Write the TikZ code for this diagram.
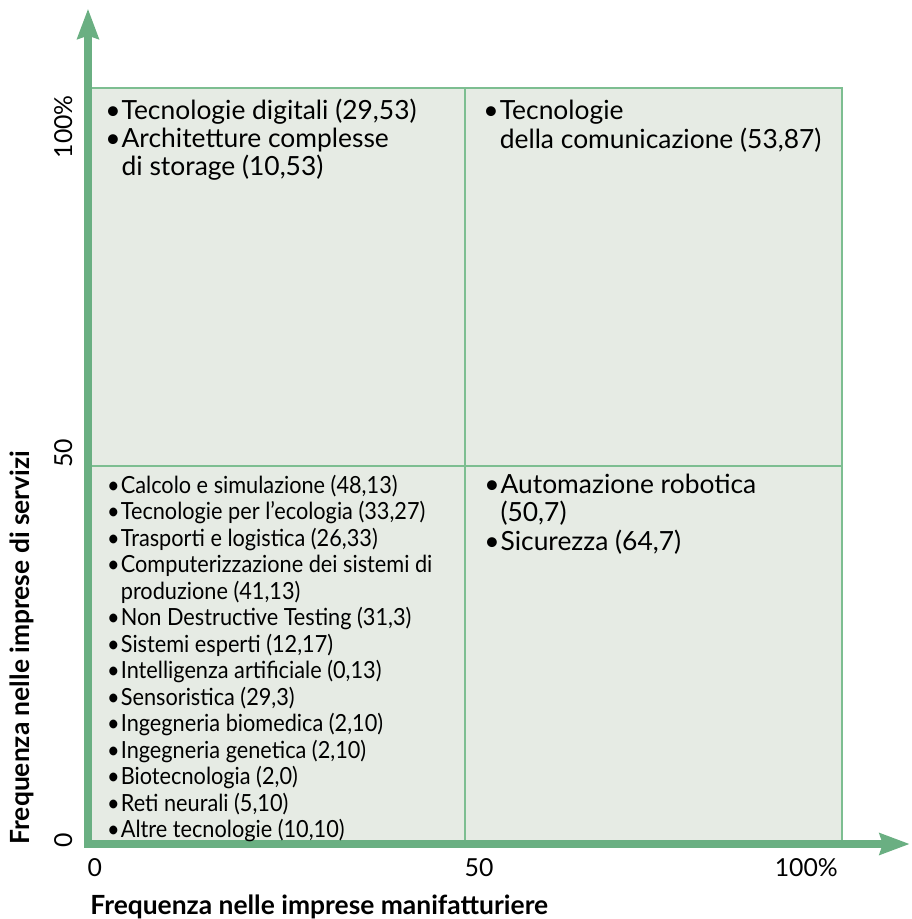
\documentclass[tikz,border=0pt]{standalone}
\usepackage{fontspec}
\setmainfont{Lato}
\newfontfamily\narrowfont[FakeStretch=0.92]{Lato}
\usetikzlibrary{arrows.meta}

\definecolor{axisgreen}{RGB}{106,175,130}
\definecolor{gridgreen}{RGB}{125,190,145}
\definecolor{boxfill}{RGB}{230,235,228}

\begin{document}
\begin{tikzpicture}[x=3.77pt, y=3.78pt,
    axis/.style={line width=4pt, axisgreen, -{Stealth[length=15pt,width=10.5pt,inset=1.5pt]}},
    gridline/.style={gridgreen, line width=0.6pt},
    quadlist/.style={anchor=base west, inner sep=0pt, font=\fontsize{13.2}{13.3}\selectfont},
    ticklabel/.style={inner sep=0pt, font=\fontsize{12.4}{14}\selectfont},
    axislabel/.style={inner sep=0pt, font=\fontsize{13.2}{15}\selectfont\bfseries}]
    \useasboundingbox (-11.67,-9.92) rectangle (109.28,111.64);

    % quadrants
    \fill[boxfill] (0,0) rectangle (100,100);
    \draw[gridline] (0,0) rectangle (100,100);
    \draw[gridline] (50,0) -- (50,100);
    \draw[gridline] (0,50) -- (100,50);

    % axes
    \draw[axis] (-0.5,0) -- (109,0);
    \draw[axis] (0,-0.5) -- (0,110.5);

    % ticks
    \node[ticklabel, anchor=north west] (x0) at (-0.1,-1.85) {0};
    \node[ticklabel, anchor=north west] (x50) at (49.9,-1.85) {50};
    \node[ticklabel, anchor=north east] (x100) at (99.5,-1.85) {100\%};
    \node[ticklabel, rotate=90, anchor=base west] (y0) at (-2.1,-0.5) {0};
    \node[ticklabel, rotate=90, anchor=base west] (y50) at (-2.1,49.7) {50};
    \node[ticklabel, rotate=90, anchor=base east] (y100) at (-2.1,99.1) {100\%};

    \node[axislabel, anchor=base west] (xlab) at (0.27,-9.26) {Frequenza nelle imprese manifatturiere};
    \node[axislabel, rotate=90, anchor=base west] (ylab) at (-7.7,-0.1) {Frequenza nelle imprese di servizi};

    % lists
    \node[quadlist] (tl) at (2.25,95.8) {\begin{tabular}[t]{@{}l@{\hspace{0.5pt}}l@{}}
        \textbullet & Tecnologie digitali (29,53)\\
        \textbullet & Architetture complesse\\
                    & di storage (10,53)
    \end{tabular}};
    \node[quadlist] (tr) at (52.4,95.8) {\begin{tabular}[t]{@{}l@{\hspace{0.5pt}}l@{}}
        \textbullet & Tecnologie\\
                    & della comunicazione (53,87)
    \end{tabular}};
    \node[quadlist] (br) at (52.5,46.4) {\begin{tabular}[t]{@{}l@{\hspace{0.5pt}}l@{}}
        \textbullet & Automazione robotica\\
                    & (50,7)\\
        \textbullet & Sicurezza (64,7)
    \end{tabular}};
    \node[quadlist, font=\fontsize{11.8}{13.25}\selectfont\narrowfont] (bl) at (2.5,46.4) {\begin{tabular}[t]{@{}l@{\hspace{0.5pt}}l@{}}
        \textbullet & Calcolo e simulazione (48,13)\\
        \textbullet & Tecnologie per l’ecologia (33,27)\\
        \textbullet & Trasporti e logistica (26,33)\\
        \textbullet & Computerizzazione dei sistemi di\\
                    & produzione (41,13)\\
        \textbullet & Non Destructive Testing (31,3)\\
        \textbullet & Sistemi esperti (12,17)\\
        \textbullet & Intelligenza artificiale (0,13)\\
        \textbullet & Sensoristica (29,3)\\
        \textbullet & Ingegneria biomedica (2,10)\\
        \textbullet & Ingegneria genetica (2,10)\\
        \textbullet & Biotecnologia (2,0)\\
        \textbullet & Reti neurali (5,10)\\
        \textbullet & Altre tecnologie (10,10)
    \end{tabular}};
\end{tikzpicture}
\end{document}
